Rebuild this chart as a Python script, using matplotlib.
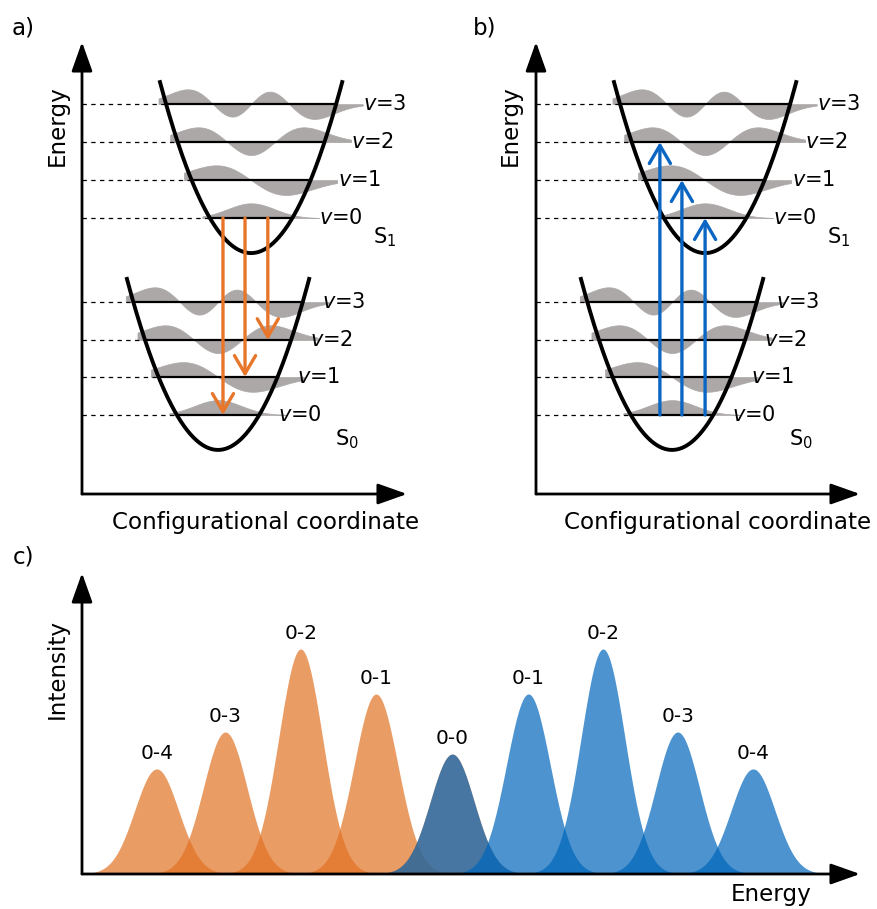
import numpy as np
import matplotlib
matplotlib.use("Agg")
import matplotlib.pyplot as plt
from matplotlib.patches import FancyArrowPatch
from numpy.polynomial.hermite import hermval

# --- panels a/b: potential wells (1 unit = one vibrational spacing) ---
S1_MIN = (4.45, 6.34)
S0_MIN = (3.58, 1.16)
S1_LEVELS = [7.26, 8.26, 9.26, 10.26]
S0_LEVELS = [2.08, 3.08, 4.05, 5.05]
CURVATURE = 0.783
WELL_TOP = 4.5
PSI_WIDTH = [0.62, 0.92, 0.88, 0.82]
PSI_AMP = 0.39

# vertical transitions: x position and target level
EMISSION_X = [3.71, 4.29, 4.89]
EMISSION_TO = [0, 1, 2]
ABSORPTION_X = [3.26, 3.84, 4.45]
ABSORPTION_TO = [2, 1, 0]

# --- panel c: vibronic progression ---
PEAK_LABELS = ["0-0", "0-1", "0-2", "0-3", "0-4"]
PEAK_HEIGHTS = [0.533, 0.80, 1.0, 0.631, 0.467]
EMISSION_POS = [4.91, 3.90, 2.90, 1.90, 0.99]
ABSORPTION_POS = [4.91, 5.92, 6.91, 7.90, 8.90]
PEAK_SIGMA = 0.29

ORANGE = "#e27224"
BLUE = "#0066bb"
ARROW_ORANGE = "#e8762a"
ARROW_BLUE = "#0a66c2"
GREY = "#aca8a8"

W, H = 877, 909
LABEL_FS = 16.6
LEVEL_FS = 15
PEAK_FS = 14.5


def px_axes(fig, left, top, right, bottom, sx, sy):
    ax = fig.add_axes([left / W, 1 - bottom / H, (right - left) / W, (bottom - top) / H])
    ax.set_xlim(0, (right - left) / sx)
    ax.set_ylim(0, (bottom - top) / sy)
    ax.axis("off")
    arrow = dict(arrowstyle="-|>,head_length=0.9,head_width=0.32", mutation_scale=20,
                 lw=2, color="black", shrinkA=0, shrinkB=0)
    ax.annotate("", xy=(1, 0), xytext=(0, 0), xycoords="axes fraction", arrowprops=arrow,
                annotation_clip=False)
    ax.annotate("", xy=(0, 1), xytext=(0, 0), xycoords="axes fraction", arrowprops=arrow,
                annotation_clip=False)
    return ax


def psi(v, xi):
    coef = np.zeros(v + 1)
    coef[v] = 1
    y = hermval(-xi, coef) * np.exp(-xi ** 2 / 2)
    return y / np.abs(y).max()


def draw_well(ax, centre, levels, name, label_dx, name_dx, name_dy):
    x0, y0 = centre
    half = np.sqrt(WELL_TOP / CURVATURE)
    x = np.linspace(x0 - half, x0 + half, 300)
    ax.plot(x, y0 + CURVATURE * (x - x0) ** 2, color="black", lw=2.8, zorder=4)
    for v, e in enumerate(levels):
        w = np.sqrt((e - y0) / CURVATURE)
        xs = np.linspace(x0 - w - 0.2, x0 + w + 0.7, 400)
        ys = e + PSI_AMP * psi(v, (xs - x0) / PSI_WIDTH[v])
        ax.fill_between(xs, e, ys, facecolor=GREY, edgecolor=GREY, lw=0.5, zorder=1)
        ax.plot([x0 - w, x0 + w], [e, e], color="black", lw=1.6, zorder=3)
        ax.plot([0, x0 - w], [e, e], color="black", lw=0.9, ls=(0, (3.5, 3.5)), zorder=2)
        ax.text(x0 + w + label_dx, e, f"$v$={v}", fontsize=LEVEL_FS, ha="left", va="center")
    ax.text(x0 + name_dx, y0 + name_dy, name, fontsize=LEVEL_FS, ha="left", va="baseline")


def draw_transitions(ax, xs, start, ends, color):
    for x, end in zip(xs, ends):
        ax.add_patch(FancyArrowPatch((x, start), (x, end),
                                     arrowstyle="->,head_length=0.65,head_width=0.38",
                                     mutation_scale=20, lw=2.4, color=color,
                                     shrinkA=0, shrinkB=0, zorder=5))


fig = plt.figure(figsize=(W / 100, H / 100), dpi=100)

# panel a: emission
ax_a = px_axes(fig, 82, 42, 407, 494, 38, 38)
draw_well(ax_a, S1_MIN, S1_LEVELS, "S$_1$", 0.71, 3.2, 0.26)
draw_well(ax_a, S0_MIN, S0_LEVELS, "S$_0$", 0.5, 3.08, 0.13)
draw_transitions(ax_a, EMISSION_X, S1_LEVELS[0], [S0_LEVELS[i] for i in EMISSION_TO], ARROW_ORANGE)

# panel b: absorption
ax_b = px_axes(fig, 536, 42, 860, 494, 38, 38)
draw_well(ax_b, S1_MIN, S1_LEVELS, "S$_1$", 0.71, 3.2, 0.26)
draw_well(ax_b, S0_MIN, S0_LEVELS, "S$_0$", 0.5, 3.08, 0.13)
draw_transitions(ax_b, ABSORPTION_X, S0_LEVELS[0], [S1_LEVELS[i] for i in ABSORPTION_TO], ARROW_BLUE)

# panel c: spectra
ax_c = px_axes(fig, 82, 573, 860, 874, 75.4, 225)
e = np.linspace(0, 10.3, 2000)
for pos_list, color in ((EMISSION_POS, ORANGE), (ABSORPTION_POS, BLUE)):
    for pos, height, label in zip(pos_list, PEAK_HEIGHTS, PEAK_LABELS):
        ax_c.fill_between(e, 0, height * np.exp(-(e - pos) ** 2 / (2 * PEAK_SIGMA ** 2)),
                          color=color, alpha=0.7, lw=0)
        if color == BLUE or label != "0-0":
            ax_c.annotate(label, (pos, height), xytext=(0, 11), textcoords="offset points",
                          ha="center", va="center", fontsize=PEAK_FS)


def fig_text(x, y, s, **kw):
    fig.text(x / W, 1 - y / H, s, fontsize=LABEL_FS, ha="center", va="center", **kw)


fig_text(23, 28, "a)")
fig_text(485, 28, "b)")
fig_text(23, 557, "c)")
fig_text(57, 126, "Energy", rotation=90)
fig_text(510, 126, "Energy", rotation=90)
fig_text(266, 522, "Configurational coordinate")
fig_text(718, 522, "Configurational coordinate")
fig_text(57, 669, "Intensity", rotation=90)
fig_text(771, 895, "Energy")

fig.savefig("out.png", dpi=100)
